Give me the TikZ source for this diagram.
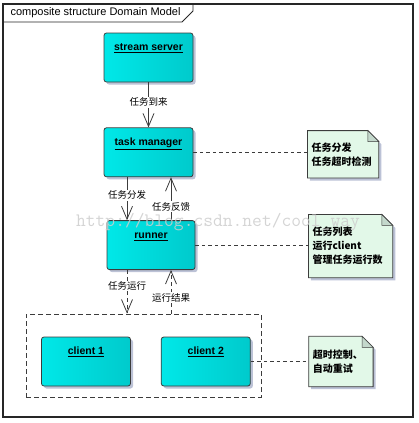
\documentclass[tikz,border=0pt]{standalone}
\usepackage{fontspec}
\setmainfont{Liberation Sans}
\newfontfamily\cjk{Noto Sans CJK SC}
\usepackage{tikz}
\usetikzlibrary{arrows.meta, positioning, shadows, backgrounds}
\definecolor{cyanleft}{RGB}{0, 232, 232}
\definecolor{cyanmid}{RGB}{0, 255, 255}
\definecolor{cyanright}{RGB}{0, 202, 204}
\definecolor{notegreen}{RGB}{226, 248, 232}
\definecolor{notefold}{RGB}{196, 216, 204}
\definecolor{shadowgray}{RGB}{188, 194, 214}
\definecolor{linegray}{RGB}{60, 60, 60}
\definecolor{markgray}{RGB}{205, 205, 205}

% note with folded corner, drawn behind the note node
\newcommand{\foldnote}[1]{%
  \begin{scope}[on background layer]
    \fill[shadowgray, transform canvas={shift={(2.5pt,-2.5pt)}}] (#1.south west) -- (#1.north west) -- ([xshift=-11pt]#1.north east) -- ([yshift=-11pt]#1.north east) -- (#1.south east) -- cycle;
    \filldraw[fill=notegreen, draw=linegray, line width=0.8pt] (#1.south west) -- (#1.north west) -- ([xshift=-11pt]#1.north east) -- ([yshift=-11pt]#1.north east) -- (#1.south east) -- cycle;
    \filldraw[fill=notefold, draw=linegray, line width=0.6pt] ([xshift=-11pt]#1.north east) -- ([xshift=-11pt,yshift=-11pt]#1.north east) -- ([yshift=-11pt]#1.north east) -- cycle;
  \end{scope}}

\begin{document}
\begin{tikzpicture}[
    x=1pt, y=1pt,
    box/.style={draw=linegray, line width=0.8pt, rounded corners=2.5pt, minimum width=89pt, minimum height=49pt,
        left color=cyanleft, middle color=cyanmid, right color=cyanright,
        drop shadow={shadow xshift=2.5pt, shadow yshift=-2.5pt, fill=shadowgray, opacity=1}},
    title/.style={anchor=base, yshift=-18pt, inner sep=0pt, font=\fontsize{10.5}{12}\selectfont\bfseries},
    note/.style={inner xsep=4pt, inner ysep=2pt, align=left, font=\cjk\bfseries\fontsize{10}{14}\selectfont},
    lbl/.style={fill=white, inner sep=1pt, font=\cjk\fontsize{9.5}{11}\selectfont},
    arrow/.style={-{Straight Barb[length=13pt, width=11pt]}, draw=linegray, line width=0.8pt},
    dasharrow/.style={arrow, dash pattern=on 4pt off 3pt},
    link/.style={draw=linegray, line width=0.8pt, dash pattern=on 3.5pt off 3pt},
    group/.style={draw=linegray, line width=1pt, dash pattern=on 5pt off 3pt, minimum width=235pt, minimum height=83pt}
]
\useasboundingbox (0,0) rectangle (418,-423);

% frame and title tab
\draw[line width=1.2pt, draw=black!85] (3,-4) rectangle (413,-417);
\draw[line width=0.9pt, draw=black!85] (3,-22) -- (182,-22) -- (193,-11) -- (193,-4);
\node[anchor=west, font=\fontsize{11}{13}\selectfont] (heading) at (7,-13) {composite structure Domain Model};

\node[box, label={[title]north:\underline{stream server}}] (stream) at (148.5,-57.5) {};
\node[box, below=45pt of stream, label={[title]north:\underline{task manager}}] (task) {};
\node[box, below=43pt of task, xshift=2.5pt, minimum width=88pt, label={[title]north:\underline{runner}}] (runner) {};

\node[group] (grp) at (143.5,-355.5) {};
\node[box, label={[title]north:\underline{client 1}}] (client1) at (86,-361.5) {};
\node[box, right=30pt of client1, label={[title]north:\underline{client 2}}] (client2) {};

\node[note, right=114pt of task, yshift=-2pt, minimum width=71pt, text width=63pt, minimum height=47pt] (note1) {任务分发\\任务超时检测};
\node[note, right=113pt of runner, yshift=-1pt, minimum width=84pt, text width=76pt, minimum height=63pt] (note2) {任务列表\\运行client\\管理任务运行数};
\node[note, right=58pt of client2, minimum width=64pt, text width=56pt, minimum height=50pt] (note3) {超时控制、\\自动重试};
\foldnote{note1}
\foldnote{note2}
\foldnote{note3}

\draw[arrow] (stream) -- node[lbl, pos=0.44] {任务到来} (task);
\draw[arrow] ([xshift=-21.5pt]task.south) -- node[lbl, pos=0.42] {任务分发} ([xshift=-21.5pt]task.south |- runner.north);
\draw[arrow] ([xshift=22.5pt]task.south |- runner.north) -- node[lbl, pos=0.32] {任务反馈} ([xshift=22.5pt]task.south);
\draw[dasharrow] ([xshift=-21.5pt]task.south |- runner.south) -- node[lbl, pos=0.37] {任务运行} ([xshift=-21.5pt]task.south |- grp.north);
\draw[dasharrow] ([xshift=22.5pt]task.south |- grp.north) -- node[lbl, pos=0.37] {运行结果} ([xshift=22.5pt]task.south |- runner.south);

\draw[link] (task.east) -- (task.east -| note1.west);
\draw[link] (runner.east) -- (runner.east -| note2.west);
\draw[link] (client2.east) -- (client2.east -| note3.west);

\node[text=markgray, opacity=0.85, inner sep=0pt, anchor=base, font=\ttfamily\fontsize{19}{21}\selectfont] (mark) at (218,-226) {http://blog.csdn.net/cool\_way};

\end{tikzpicture}
\end{document}
